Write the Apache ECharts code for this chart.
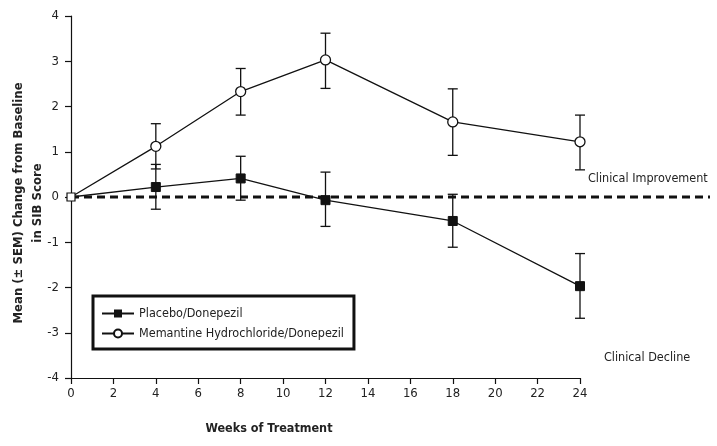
<!DOCTYPE html>
<html>
<head>
<meta charset="utf-8">
<script src="https://cdn.jsdelivr.net/npm/echarts@6/dist/echarts.min.js"></script>
<style>html,body{margin:0;padding:0;background:#fff}#c{width:717px;height:446px}</style>
</head>
<body>
<div id="c"></div>
<script>
var weeks = [0, 4, 8, 12, 18, 24];
var placeboMean = [0, 0.22, 0.41, -0.07, -0.53, -1.97];
var placeboLow  = [0, -0.27, -0.07, -0.65, -1.11, -2.68];
var placeboHigh = [0, 0.72, 0.90, 0.55, 0.06, -1.25];
var memMean = [0, 1.12, 2.33, 3.03, 1.66, 1.22];
var memLow  = [0, 0.62, 1.81, 2.40, 0.92, 0.60];
var memHigh = [0, 1.62, 2.84, 3.62, 2.39, 1.81];
var xTicks = [0, 2, 4, 6, 8, 10, 12, 14, 16, 18, 20, 22, 24];
var yTicks = [-4, -3, -2, -1, 0, 1, 2, 3, 4];
var seriesNames = ['Placebo/Donepezil', 'Memantine Hydrochloride/Donepezil'];

var FONT = '"DejaVu Sans", sans-serif';
var STRETCH = 'condensed';
var chart = echarts.init(document.getElementById('c'));

function errData(low, high) {
  return weeks.map(function (w, i) { return [w, low[i], high[i]]; }).filter(function (d) { return d[1] !== d[2]; });
}
function errRender(params, api) {
  var x = api.value(0);
  var lo = api.coord([x, api.value(1)]);
  var hi = api.coord([x, api.value(2)]);
  var cap = 5;
  var st = { stroke: '#111', lineWidth: 1.3 };
  return {
    type: 'group',
    children: [
      { type: 'line', shape: { x1: lo[0], y1: lo[1], x2: hi[0], y2: hi[1] }, style: st },
      { type: 'line', shape: { x1: lo[0] - cap, y1: lo[1], x2: lo[0] + cap, y2: lo[1] }, style: st },
      { type: 'line', shape: { x1: hi[0] - cap, y1: hi[1], x2: hi[0] + cap, y2: hi[1] }, style: st }
    ]
  };
}

var placeboPts = weeks.map(function (w, i) {
  var p = { value: [w, placeboMean[i]] };
  if (i === 0) { p.symbolSize = 8; p.itemStyle = { color: '#fff', borderColor: '#111', borderWidth: 1.2 }; }
  return p;
});
var memPts = weeks.map(function (w, i) {
  var p = { value: [w, memMean[i]] };
  if (i === 0) p.symbolSize = 0;
  return p;
});

var option = {
  animation: false,
  backgroundColor: '#fff',
  grid: [
    { left: 71, right: 137, top: 16, bottom: 68, containLabel: false, outerBoundsMode: 'none' },
    { left: 71, right: 7, top: 16, bottom: 68, containLabel: false, outerBoundsMode: 'none' }
  ],
  xAxis: [
    {
      type: 'value', gridIndex: 0, min: 0, max: 24, interval: 2,
      axisLine: { onZero: false, lineStyle: { color: '#111', width: 1.2 } },
      axisTick: { show: true, length: 6, lineStyle: { color: '#111', width: 1.2 } },
      axisLabel: { color: '#222', fontFamily: FONT, fontStyle: STRETCH, fontSize: 13, margin: 9 },
      splitLine: { show: false }
    },
    { type: 'value', gridIndex: 1, min: 0, max: 1, show: false }
  ],
  yAxis: [
    {
      type: 'value', gridIndex: 0, min: -4, max: 4, interval: 1,
      axisLine: { show: true, onZero: false, lineStyle: { color: '#111', width: 1.2 } },
      axisTick: { show: true, length: 6, lineStyle: { color: '#111', width: 1.2 } },
      axisLabel: { color: '#222', fontFamily: FONT, fontStyle: STRETCH, fontSize: 13, margin: 12 },
      splitLine: { show: false },
      name: 'Mean (± SEM) Change from Baseline\nin SIB Score',
      nameLocation: 'middle', nameGap: 24, nameMoveOverlap: false,
      nameTextStyle: { color: '#222', fontFamily: FONT, fontStyle: STRETCH, fontSize: 13, fontWeight: 'bold', lineHeight: 19, padding: [0, 12, 0, 0] }
    },
    { type: 'value', gridIndex: 1, min: -4, max: 4, show: false }
  ],
  legend: {
    orient: 'vertical', left: 93, top: 296,
    data: seriesNames,
    itemWidth: 32, itemHeight: 10, itemGap: 7,
    padding: [11, 10, 9, 8],
    borderColor: '#111', borderWidth: 3,
    textStyle: { color: '#222', fontFamily: FONT, fontStyle: STRETCH, fontSize: 12.5 }
  },
  graphic: [
    { type: 'text', left: 588, top: 172, style: { text: 'Clinical Improvement', fill: '#222', font: STRETCH + ' 12.5px ' + FONT } },
    { type: 'text', left: 604, top: 351, style: { text: 'Clinical Decline', fill: '#222', font: STRETCH + ' 12.5px ' + FONT } },
    { type: 'text', x: 269, y: 429, style: { text: 'Weeks of Treatment', fill: '#222', align: 'center', verticalAlign: 'middle', font: STRETCH + ' bold 12.5px ' + FONT } }
  ],
  series: [
    {
      type: 'line', xAxisIndex: 1, yAxisIndex: 1, silent: true,
      data: [[0, 0], [1, 0]], symbol: 'none',
      lineStyle: { color: '#111', width: 3, type: [8, 5] }, z: 1
    },
    {
      type: 'custom', name: 'memErr', renderItem: errRender,
      data: errData(memLow, memHigh), encode: { x: 0, y: [1, 2] }, z: 2, silent: true
    },
    {
      type: 'custom', name: 'plaErr', renderItem: errRender,
      data: errData(placeboLow, placeboHigh), encode: { x: 0, y: [1, 2] }, z: 2, silent: true
    },
    {
      name: seriesNames[1], type: 'line',
      data: memPts,
      symbol: 'circle', symbolSize: 10, showAllSymbol: true,
      lineStyle: { color: '#111', width: 1.3 },
      itemStyle: { color: '#fff', borderColor: '#111', borderWidth: 1.3 }, z: 3
    },
    {
      name: seriesNames[0], type: 'line',
      data: placeboPts,
      symbol: 'rect', symbolSize: 9, showAllSymbol: true,
      lineStyle: { color: '#111', width: 1.3 },
      itemStyle: { color: '#111', borderColor: '#111' }, z: 4
    }
  ]
};
chart.setOption(option);
</script>
</body>
</html>
